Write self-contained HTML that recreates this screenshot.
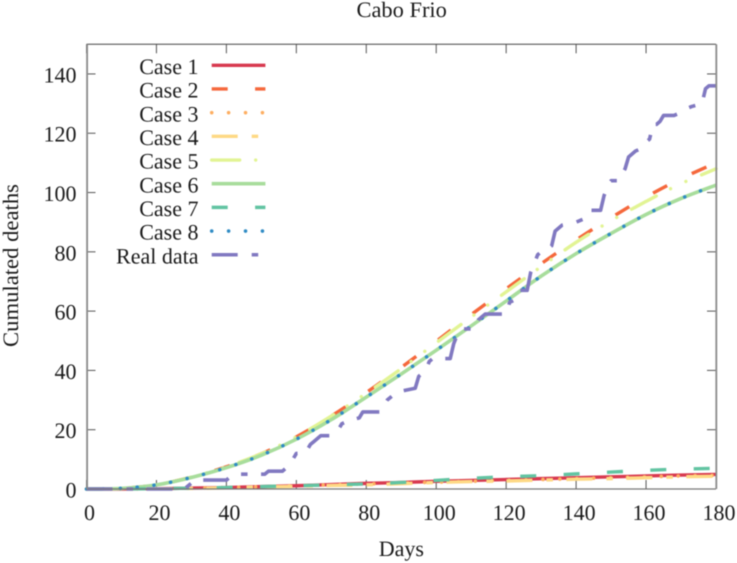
<!DOCTYPE html>
<html lang="en">
<head>
<meta charset="utf-8">
<title>Cabo Frio</title>
<style>
html,body{margin:0;padding:0;background:#fff;}
svg{display:block;filter:blur(0.4px);}
text{font-family:"Liberation Serif",serif;fill:#1a1a1a;font-size:22px;text-rendering:geometricPrecision;}
</style>
</head>
<body>
<svg id="chart" xmlns="http://www.w3.org/2000/svg" width="737" height="563" viewBox="0 0 737 563"></svg>
<script>
const xTicks = [0, 20, 40, 60, 80, 100, 120, 140, 160, 180];
const yTicks = [0, 20, 40, 60, 80, 100, 120, 140];
const seriesNames = ["Case 1", "Case 2", "Case 3", "Case 4", "Case 5", "Case 6", "Case 7", "Case 8", "Real data"];
const modelDays = [0, 10, 20, 30, 40, 50, 60, 70, 80, 90, 100, 110, 120, 130, 140, 150, 160, 170, 180];
const case1 = [0, 0, 0.1, 0.3, 0.5, 0.8, 1.1, 1.5, 1.9, 2.2, 2.6, 2.9, 3.2, 3.5, 3.8, 4.1, 4.4, 4.7, 4.9];
const case2 = [0, 0.2, 1.4, 4, 7.5, 11.9, 17.6, 24.6, 32.5, 41, 49.8, 58.8, 67.5, 76, 84, 91.5, 98.5, 104.7, 110];
const case3 = [0, 0, 0.1, 0.3, 0.5, 0.8, 1.1, 1.4, 1.7, 2, 2.3, 2.6, 2.9, 3.2, 3.5, 3.8, 4.1, 4.4, 4.6];
const case4 = [0, 0, 0.1, 0.2, 0.4, 0.7, 0.9, 1.2, 1.4, 1.8, 2.2, 2.5, 2.7, 3, 3.3, 3.5, 3.8, 4.1, 4.3];
const case5 = [0, 0.2, 1.4, 4, 7.5, 11.9, 17.6, 24.6, 32.3, 40.6, 49.3, 58, 66.5, 75, 83.2, 90.5, 97, 103, 108];
const case6 = [0, 0.2, 1.4, 3.9, 7.2, 11.4, 16.8, 23.4, 31, 38.8, 46.8, 55, 63.4, 71.8, 79.4, 86.2, 92.6, 98, 102.5];
const case7 = [0, 0, 0.1, 0.3, 0.5, 0.8, 1.1, 1.4, 1.7, 2.2, 2.9, 3.6, 4.1, 4.5, 5.1, 5.7, 6.3, 6.7, 7];
const case8 = [0, 0.2, 1.4, 3.9, 7.2, 11.4, 16.8, 23.4, 31, 38.8, 46.8, 55, 63.4, 71.8, 79.4, 86.2, 92.6, 98, 102.5];
const realDays = [0, 28, 29, 30, 31, 40, 41, 43, 44, 51, 52, 56, 57, 58, 60, 62, 63, 64, 65, 66, 67, 70, 72, 73, 75, 78, 79, 84, 85, 86, 87, 88, 90, 94, 95, 97, 98, 99, 104, 105, 106, 107, 111, 112, 113, 114, 120, 121, 123, 124, 126, 127, 128, 129, 130, 132, 133, 134, 135, 136, 140, 142, 143, 144, 147, 148, 149, 150, 152, 153, 154, 155, 156, 157, 159, 160, 161, 162, 163, 164, 165, 168, 170, 171, 173, 176, 177, 178, 180];
const realDeaths = [0, 0, 1, 2, 3, 3, 4, 4, 5, 5, 6, 6, 7, 8, 12, 12, 13, 15, 16, 17, 18, 18, 20, 22, 23, 24, 26, 26, 28, 30, 31, 32, 33, 34, 38, 40, 43, 44, 44, 49, 52, 54, 54, 57, 58, 59, 59, 63, 64, 67, 67, 73, 76, 79, 80, 81, 82, 87, 88, 89, 90, 91, 93, 94, 94, 99, 102, 104, 104, 106, 108, 112, 113, 114, 115, 117, 118, 123, 123, 124, 126, 126, 127, 128, 129, 130, 135, 136, 136];

const NS = "http://www.w3.org/2000/svg";
const svg = document.getElementById("chart");
const plotLeft = 86.5, plotRight = 716, plotTop = 44.3, plotBottom = 489;
const dayMax = 180, deathsMax = 150;
function xScale(d) { return plotLeft + (d / dayMax) * (plotRight - plotLeft); }
function yScale(v) { return plotBottom - (v / deathsMax) * (plotBottom - plotTop); }

function add(parent, tag, attrs) {
  const el = document.createElementNS(NS, tag);
  for (const k in attrs) el.setAttribute(k, attrs[k]);
  parent.appendChild(el);
  return el;
}
function scaledText(parent, str, x, y, anchor, sx) {
  const t = add(parent, "text", { transform: "translate(" + x + " " + y + ") scale(" + sx + " 1)", "text-anchor": anchor });
  t.textContent = str;
  return t;
}
function smoothPath(xs, ys) {
  const p = xs.map((d, i) => [xScale(d), yScale(ys[i])]);
  let s = "M" + p[0][0].toFixed(2) + " " + p[0][1].toFixed(2);
  for (let i = 0; i < p.length - 1; i++) {
    const a = p[Math.max(i - 1, 0)], b = p[i], c = p[i + 1], e = p[Math.min(i + 2, p.length - 1)];
    const c1x = b[0] + (c[0] - a[0]) / 6, c1y = Math.min(plotBottom, b[1] + (c[1] - a[1]) / 6);
    const c2x = c[0] - (e[0] - b[0]) / 6, c2y = Math.min(plotBottom, c[1] - (e[1] - b[1]) / 6);
    s += "C" + c1x.toFixed(2) + " " + c1y.toFixed(2) + " " + c2x.toFixed(2) + " " + c2y.toFixed(2) + " " + c[0].toFixed(2) + " " + c[1].toFixed(2);
  }
  return s;
}
function straightPath(xs, ys) {
  return xs.map((d, i) => (i ? "L" : "M") + xScale(d).toFixed(2) + " " + yScale(ys[i]).toFixed(2)).join("");
}

const colors = ["#d8394f", "#f5683c", "#fdae61", "#fed985", "#e2f494", "#a8dd9c", "#62c4a2", "#2f8bc4", "#8179c1"];
const dashes = ["", "16 27.4", "0.01 16.9", "26 14 6.5 13.5", "28 16 0.01 17 0.01 17", "", "16 27.4", "0.01 16.9", "26 14 6.5 13.5"];
const widths = [3.4, 3.4, 3.6, 3.4, 3.4, 3.6, 3.4, 3.6, 3.6];
const roundCaps = [false, false, true, false, true, false, false, true, false];

/* axes frame */
const axes = add(svg, "g", {});



const xAxis = add(axes, "g", {});


xTicks.forEach(function (t) {
  const px = xScale(t);
  const g = add(xAxis, "g", {});
  
  
  add(g, "line", { x1: px, x2: px, y1: plotBottom, y2: plotBottom - 9, stroke: "#555", "stroke-width": 1 });
  add(g, "line", { x1: px, x2: px, y1: plotTop, y2: plotTop + 9, stroke: "#555", "stroke-width": 1 });
  scaledText(g, String(t), px + 3, 520, "middle", 1);
});

const yAxis = add(axes, "g", {});


yTicks.forEach(function (t) {
  const py = yScale(t);
  const g = add(yAxis, "g", {});
  
  
  add(g, "line", { x1: plotLeft, x2: plotLeft + 9, y1: py, y2: py, stroke: "#555", "stroke-width": 1 });
  add(g, "line", { x1: plotRight, x2: plotRight - 9, y1: py, y2: py, stroke: "#555", "stroke-width": 1 });
  scaledText(g, String(t), 76.5, py + 8.5, "end", 1);
});

/* series */
const modelSeries = [case1, case2, case3, case4, case5, case6, case7, case8];
const seriesGroup = add(svg, "g", { fill: "none", "stroke-linejoin": "round" });


modelSeries.forEach(function (vals, i) {
  const p = add(seriesGroup, "path", { d: smoothPath(modelDays, vals), stroke: colors[i], "stroke-width": widths[i] });
  if (dashes[i]) p.setAttribute("stroke-dasharray", dashes[i]);
  p.setAttribute("stroke-linecap", roundCaps[i] ? "round" : "butt");
  
  
});
const realLine = add(seriesGroup, "path", { d: straightPath(realDays, realDeaths), stroke: colors[8], "stroke-width": widths[8], "stroke-dasharray": dashes[8] });



/* frame on top */
const frame = add(svg, "g", {});


add(frame, "line", { x1: plotLeft, x2: plotRight, y1: plotTop, y2: plotTop, stroke: "#444", "stroke-width": 1 });
add(frame, "line", { x1: plotLeft, x2: plotRight, y1: plotBottom, y2: plotBottom, stroke: "#777", "stroke-width": 1.3 });
add(frame, "line", { x1: plotLeft + 0.6, x2: plotLeft + 0.6, y1: plotTop, y2: plotBottom, stroke: "#8a8a8a", "stroke-width": 1.8 });
add(frame, "line", { x1: plotRight + 0.3, x2: plotRight + 0.3, y1: plotTop, y2: plotBottom, stroke: "#8a8a8a", "stroke-width": 1.8 });

/* legend */
const legend = add(svg, "g", {});


seriesNames.forEach(function (name, i) {
  const ly = 65.3 + i * 23.68;
  const g = add(legend, "g", {});
  
  
  scaledText(g, name, 198.5, ly + 8.6, "end", 1);
  const s = add(g, "line", { x1: 211.7, x2: 265.4, y1: ly, y2: ly, stroke: colors[i], "stroke-width": widths[i] });
  if (dashes[i]) s.setAttribute("stroke-dasharray", dashes[i]);
  if (roundCaps[i]) s.setAttribute("stroke-linecap", "round");
});

/* titles */
const title = scaledText(svg, "Cabo Frio", 401.7, 17, "middle", 1.02);


const xTitle = scaledText(svg, "Days", 401.3, 556, "middle", 1);


const yTitle = add(svg, "text", { transform: "translate(18 265.5) rotate(-90) scale(1.03 1)", "text-anchor": "middle" });
yTitle.textContent = "Cumulated deaths";


</script>
</body>
</html>
